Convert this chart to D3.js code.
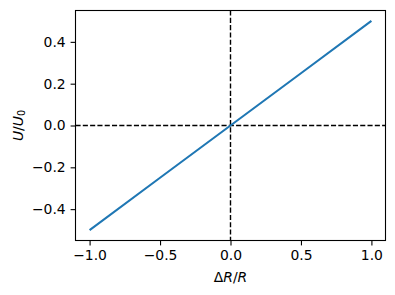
<!DOCTYPE html>
<html>
<head>
<meta charset="utf-8">
<script src="https://cdn.jsdelivr.net/npm/d3@7"></script>
<style>
  body { margin: 0; background: #fff; }
  text { font-family: "DejaVu Sans", sans-serif; }
</style>
</head>
<body>
<div id="chart"></div>
<script>
// data
var xValues = [-1.0, -0.5, 0.0, 0.5, 1.0];
var yValues = [-0.5, -0.25, 0.0, 0.25, 0.5];
var xTicks = [-1.0, -0.5, 0.0, 0.5, 1.0];
var yTicks = [-0.4, -0.2, 0.0, 0.2, 0.4];

var width = 395, height = 295;
var margin = {top: 10.5, right: 9.5, bottom: 54.5, left: 75.5};
var widthp = width - margin.left - margin.right;
var heightp = height - margin.top - margin.bottom;
var fs = 13.9;

var svg = d3.select("#chart").append("svg")
  .attr("width", width)
  .attr("height", height);

var g = svg.append("g")
  .attr("transform", "translate(" + margin.left + "," + margin.top + ")");

var xScale = d3.scaleLinear().domain([-1.1, 1.1]).range([0, widthp]);
var yScale = d3.scaleLinear().domain([-0.55, 0.55]).range([heightp, 0]);

var fmt = function(d) { return d3.format(".1f")(d).replace("-", "\u2212"); };

// axes
var xAxis = g.append("g")
  .attr("transform", "translate(0," + heightp + ")")
  .call(d3.axisBottom(xScale).tickValues(xTicks).tickFormat(fmt).tickSizeOuter(0).tickSize(4.9).tickPadding(4.9));
var yAxis = g.append("g")
  .call(d3.axisLeft(yScale).tickValues(yTicks).tickFormat(fmt).tickSizeOuter(0).tickSize(4.9).tickPadding(4.9));
[xAxis, yAxis].forEach(function(a) {
  a.select(".domain").remove();
  a.selectAll("line").attr("stroke", "#000").attr("stroke-width", 1.1);
  a.selectAll("text").attr("font-size", fs).attr("fill", "#000")
    .style("font-family", "DejaVu Sans");
});

// dashed reference lines
g.append("line")
  .attr("x1", xScale(0)).attr("x2", xScale(0))
  .attr("y1", 0).attr("y2", heightp)
  .attr("stroke", "#000").attr("stroke-width", 1.4)
  .attr("stroke-dasharray", "5.1,2.2");
g.append("line")
  .attr("x1", 0).attr("x2", widthp)
  .attr("y1", yScale(0)).attr("y2", yScale(0))
  .attr("stroke", "#000").attr("stroke-width", 1.4)
  .attr("stroke-dasharray", "5.1,2.2");

// line
var pts = xValues.map(function(x, i) { return [x, yValues[i]]; });
g.append("path")
  .datum(pts)
  .attr("fill", "none")
  .attr("stroke", "#1f77b4")
  .attr("stroke-width", 2.1)
  .attr("d", d3.line()
    .x(function(d) { return xScale(d[0]); })
    .y(function(d) { return yScale(d[1]); }));

// frame
g.append("rect")
  .attr("width", widthp).attr("height", heightp)
  .attr("fill", "none").attr("stroke", "#000").attr("stroke-width", 1.1);

// axis labels
var xl = g.append("text")
  .attr("x", widthp / 2)
  .attr("y", heightp + 41.5)
  .attr("text-anchor", "middle")
  .attr("font-size", fs);
xl.append("tspan").text("\u0394");
xl.append("tspan").attr("font-style", "italic").text("R");
xl.append("tspan").text("/");
xl.append("tspan").attr("font-style", "italic").text("R");

var yl = g.append("text")
  .attr("transform", "translate(" + (-53) + "," + (heightp / 2) + ") rotate(-90)")
  .attr("text-anchor", "middle")
  .attr("font-size", fs);
yl.append("tspan").attr("font-style", "italic").text("U");
yl.append("tspan").text("/");
yl.append("tspan").attr("font-style", "italic").text("U");
yl.append("tspan").attr("font-size", 9.7).attr("dy", 2.5).text("0");
</script>
</body>
</html>
